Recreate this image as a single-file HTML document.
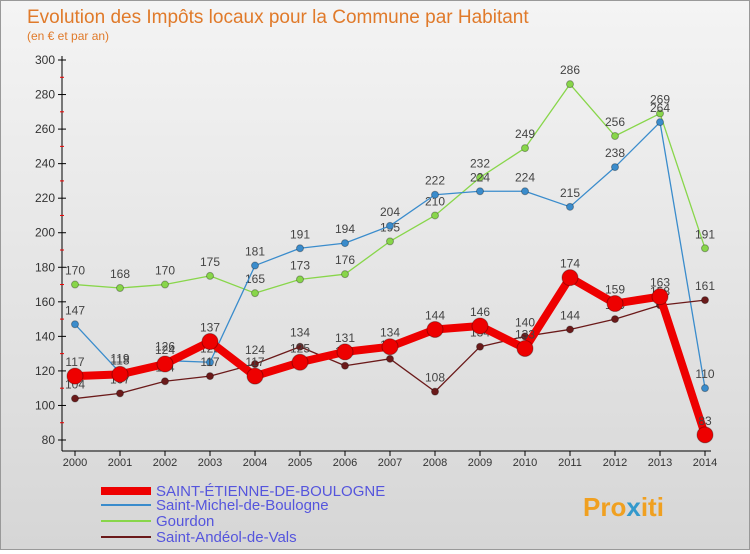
<!DOCTYPE html>
<html><head><meta charset="utf-8"><style>
body{margin:0;width:750px;height:550px;overflow:hidden;font-family:"Liberation Sans",sans-serif}
#wrap{position:relative;width:748px;height:548px;border:1px solid #999;background:linear-gradient(#f4f4f4,#d6d6d6)}
</style></head><body>
<div id="wrap">
<svg id="chart" width="748" height="548">
<text x="26" y="22" font-size="19" fill="#e07a2a">Evolution des Impôts locaux pour la Commune par Habitant</text>
<text x="26" y="39" font-size="12" fill="#e07a2a">(en € et par an)</text>
<g id="axes"></g><g id="series"></g><g id="legend"></g>
<text x="582" y="515" font-size="26" font-weight="bold" fill="#f0a020">Pro<tspan fill="#3399cc">x</tspan>iti</text>
</svg></div>
<script>
const years=[2000,2001,2002,2003,2004,2005,2006,2007,2008,2009,2010,2011,2012,2013,2014];
const yTicks=[80,100,120,140,160,180,200,220,240,260,280,300];
const stEtienne=[117,118,124,137,117,125,131,134,144,146,133,174,159,163,83];
const stMichel=[147,119,126,125,181,191,194,204,222,224,224,215,238,264,110];
const gourdon=[170,168,170,175,165,173,176,195,210,232,249,286,256,269,191];
const stAndeol=[104,107,114,117,124,134,123,127,108,134,140,144,150,158,161];
const NS="http://www.w3.org/2000/svg";
const X=i=>74+i*45, Y=v=>439-(v-80)*380/220;
function mk(t,a,p){const e=document.createElementNS(NS,t);for(const k in a)e.setAttribute(k,a[k]);p.appendChild(e);return e;}
const ax=document.getElementById('axes');
const yl=mk('line',{x1:61,y1:55,x2:61,y2:450,stroke:'#000'},ax);

const xl=mk('line',{x1:61,y1:450,x2:710,y2:450,stroke:'#000'},ax);

yTicks.forEach(v=>{mk('line',{x1:57,y1:Y(v),x2:65,y2:Y(v),stroke:'#000'},ax);
 if(v<300)mk('line',{x1:59,y1:Y(v+10),x2:63,y2:Y(v+10),stroke:'#e00'},ax);
 const t=mk('text',{x:54,y:Y(v)+4,'font-size':12,'text-anchor':'end',fill:'#333'},ax);t.textContent=v;
 });
years.forEach((y,i)=>{mk('line',{x1:X(i),y1:450,x2:X(i),y2:455,stroke:'#000'},ax);
 const t=mk('text',{x:X(i),y:465,'font-size':11,'text-anchor':'middle',fill:'#333'},ax);t.textContent=y;
 });
const sg=document.getElementById('series');
function draw(data,color,w,r,name){const g=mk('g',{},sg);
 
 mk('polyline',{points:data.map((v,i)=>X(i)+','+Y(v)).join(' '),fill:'none',stroke:color,'stroke-width':w,'stroke-linejoin':'round'},g);
 data.forEach((v,i)=>{const c=mk('circle',{cx:X(i),cy:Y(v),r:r,fill:color,stroke:'rgba(0,0,0,0.3)'},g);
  
  const t=mk('text',{x:X(i),y:Y(v)-10,'font-size':12,'text-anchor':'middle',fill:'#444'},g);t.textContent=v;
  });}
draw(gourdon,'#88d64a',1.3,3.5,'series-gourdon');
draw(stMichel,'#3a8ccc',1.3,3.5,'series-saint-michel');
draw(stAndeol,'#6b1a1a',1.3,3.5,'series-saint-andeol');
draw(stEtienne,'#ee0000',8,8,'series-saint-etienne');
const lg=document.getElementById('legend');
const items=[['SAINT-ÉTIENNE-DE-BOULOGNE','#ee0000',8,495],['Saint-Michel-de-Boulogne','#3a8ccc',2,509],['Gourdon','#88d64a',2,525],['Saint-Andéol-de-Vals','#6b1a1a',2,541]];
items.forEach(it=>{const g=mk('g',{},lg);
 mk('line',{x1:100,y1:it[3]-5,x2:150,y2:it[3]-5,stroke:it[1],'stroke-width':it[2]},g);
 const t=mk('text',{x:155,y:it[3],'font-size':15,fill:'#5555dd'},g);t.textContent=it[0];});
</script></body></html>
